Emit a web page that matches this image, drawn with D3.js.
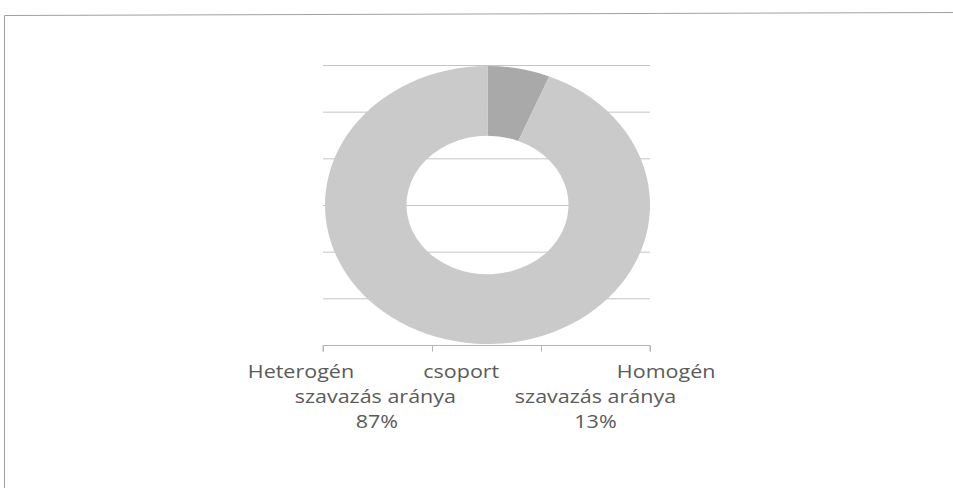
<!DOCTYPE html>
<html>
<head>
<meta charset="utf-8">
<script src="https://cdn.jsdelivr.net/npm/d3@7"></script>
<style>
  html, body { margin: 0; padding: 0; background: #fff; }
  svg { display: block; }
</style>
</head>
<body>
<svg id="chart" width="953" height="488"></svg>
<script>
// ---- data ----
const categories = ["Homogén csoport szavazás aránya", "Heterogén csoport szavazás aránya"];
const sliceShares = [6.2, 93.8];          // shares as drawn in the picture (dark, light)
const labelPercents = ["13%", "87%"];     // printed percentages
const gridLevels = [0, 1, 2, 3, 4, 5, 6];
const axisTicks = [0, 1, 2, 3];

// label text pieces (line index, text, anchor position in axis units, anchor)
const labelLines = [
  { line: 0, text: "Heterogén", pos: -0.69, anchor: "start" },
  { line: 0, text: "csoport", pos: 0.92, anchor: "start" },
  { line: 0, text: "Homogén", pos: 3.6, anchor: "end" },
  { line: 1, text: "szavazás aránya", pos: 0.48, anchor: "middle" },
  { line: 1, text: "szavazás aránya", pos: 2.5, anchor: "middle" },
  { line: 2, text: labelPercents[1], pos: 0.495, anchor: "middle" },
  { line: 2, text: labelPercents[0], pos: 2.5, anchor: "middle" }
];

const svg = d3.select("#chart");

// outer frame (top + left edges visible in scan)
svg.append("path")
  .attr("d", "M4.5,488 L4.5,15.5 L953,12.5")
  .attr("fill", "none").attr("stroke", "#a0a0a0").attr("stroke-width", 1);

const x = d3.scaleLinear().domain([0, 3]).range([323, 650]);
const y = d3.scaleLinear().domain([0, 6]).range([345, 65]);

// gridlines
svg.append("g").selectAll("line").data(gridLevels.slice(1)).join("line")
  .attr("x1", x(0)).attr("x2", x(3))
  .attr("y1", d => y(d) + 0.5).attr("y2", d => y(d) + 0.5)
  .attr("stroke", "#c4c4c4").attr("stroke-width", 1);

// axis
const axis = d3.axisBottom(x).tickValues(axisTicks).tickSize(6).tickFormat("");
const ag = svg.append("g").attr("transform", `translate(0,${y(0) + 0.5})`).call(axis);
ag.selectAll("path, line").attr("stroke", "#b4b4b4");
ag.select(".domain").attr("d", `M${x(0)},6V0H${x(3)}V6`);

// donut (drawn as ellipse: scanned image is squashed vertically)
const cx = 487.5, cy = y(3), rOuter = 162.5, rInner = 81, squash = 139 / 162.5;
const pie = d3.pie().sort(null).value(d => d);
const arc = d3.arc().innerRadius(rInner).outerRadius(rOuter);
const colors = ["#a9a9a9", "#cacaca"];
svg.append("g")
  .attr("transform", `translate(${cx},${cy}) scale(1,${squash})`)
  .selectAll("path").data(pie(sliceShares)).join("path")
  .attr("d", arc)
  .attr("fill", (d, i) => colors[i]);

// category labels (squashed vertically like the scan)
const lineY = [378, 403, 428];
svg.append("g").selectAll("text").data(labelLines).join("text")
  .attr("transform", d => `translate(${x(d.pos)},${lineY[d.line]}) scale(1,0.86)`)
  .attr("text-anchor", d => d.anchor)
  .attr("font-family", "'Open Sans', sans-serif")
  .attr("font-size", 21.5)
  .attr("fill", "#5a5a5a")
  .text(d => d.text);
</script>
</body>
</html>
